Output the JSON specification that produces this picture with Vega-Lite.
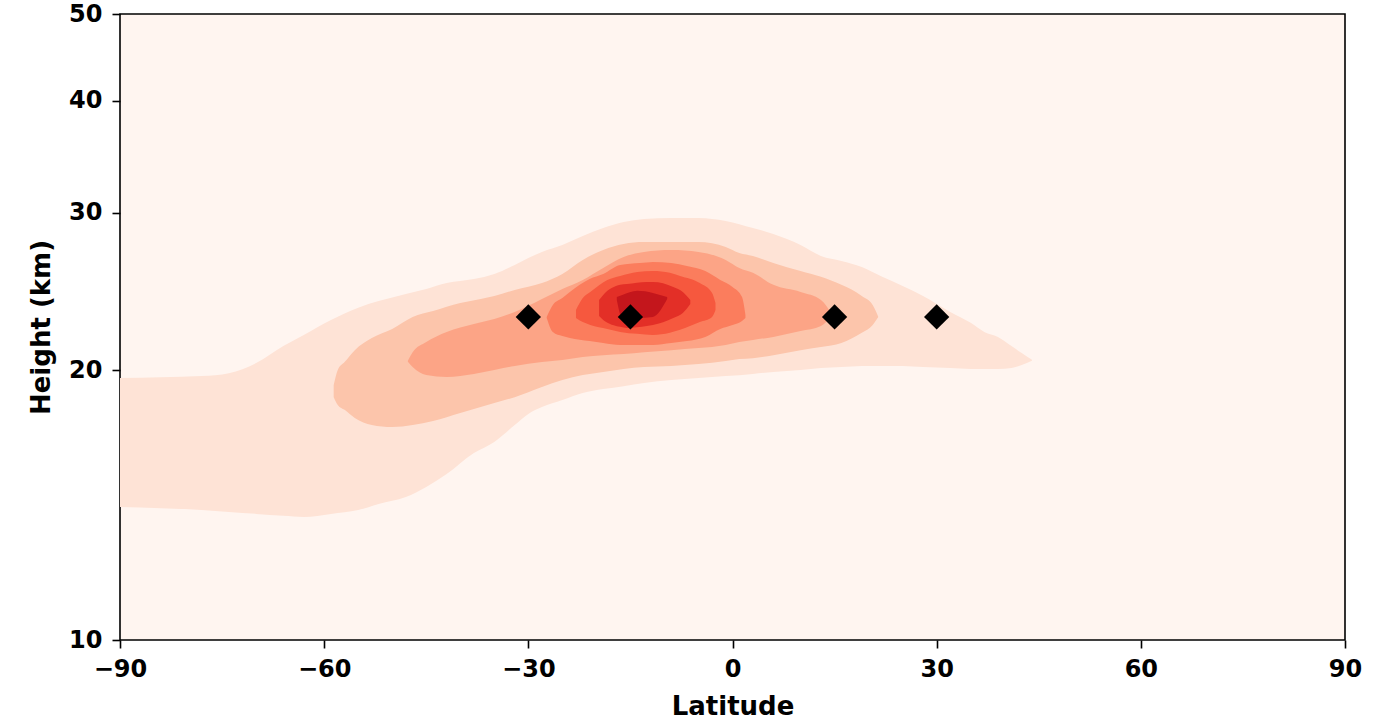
{
  "$schema": "https://vega.github.io/schema/vega-lite/v6.json",
  "autosize": {"type": "none"},
  "padding": {"left": 120, "top": 14, "right": 41, "bottom": 82},
  "width": 1225,
  "height": 626,
  "background": "white",
  "view": {"fill": "#fff5f0", "stroke": "#000000", "strokeWidth": 1.6},
  "config": {
    "font": "DejaVu Sans",
    "axis": {
      "labelFont": "DejaVu Sans", "labelFontWeight": "bold", "labelFontSize": 24, "labelColor": "#000",
      "titleFont": "DejaVu Sans", "titleFontWeight": "bold", "titleFontSize": 26, "titleColor": "#000",
      "tickColor": "#000", "tickWidth": 1.6, "tickSize": 8, "domain": false, "grid": false,
      "labelFlush": false, "labelOverlap": false
    }
  },
  "datasets": {
    "bands": [
      {"level": 1, "lat": -90, "lo": 14.08, "hi": 19.61},
      {"level": 1, "lat": -78, "lo": 13.97, "hi": 19.71},
      {"level": 1, "lat": -74, "lo": 13.90, "hi": 19.86},
      {"level": 1, "lat": -70, "lo": 13.83, "hi": 20.38},
      {"level": 1, "lat": -66, "lo": 13.76, "hi": 21.29},
      {"level": 1, "lat": -63, "lo": 13.72, "hi": 21.91},
      {"level": 1, "lat": -59, "lo": 13.83, "hi": 22.77},
      {"level": 1, "lat": -55, "lo": 13.97, "hi": 23.50},
      {"level": 1, "lat": -52, "lo": 14.19, "hi": 23.90},
      {"level": 1, "lat": -48, "lo": 14.44, "hi": 24.34},
      {"level": 1, "lat": -45, "lo": 14.82, "hi": 24.66},
      {"level": 1, "lat": -42, "lo": 15.32, "hi": 25.04},
      {"level": 1, "lat": -38, "lo": 16.17, "hi": 25.30},
      {"level": 1, "lat": -35, "lo": 16.64, "hi": 25.63},
      {"level": 1, "lat": -32, "lo": 17.38, "hi": 26.23},
      {"level": 1, "lat": -30, "lo": 17.88, "hi": 26.70},
      {"level": 1, "lat": -28, "lo": 18.20, "hi": 27.12},
      {"level": 1, "lat": -25, "lo": 18.53, "hi": 27.61},
      {"level": 1, "lat": -22, "lo": 18.87, "hi": 28.25},
      {"level": 1, "lat": -19, "lo": 19.06, "hi": 28.84},
      {"level": 1, "lat": -16, "lo": 19.20, "hi": 29.29},
      {"level": 1, "lat": -13, "lo": 19.36, "hi": 29.52},
      {"level": 1, "lat": -9, "lo": 19.51, "hi": 29.60},
      {"level": 1, "lat": -5, "lo": 19.61, "hi": 29.60},
      {"level": 1, "lat": -1, "lo": 19.71, "hi": 29.37},
      {"level": 1, "lat": 3, "lo": 19.82, "hi": 28.84},
      {"level": 1, "lat": 6, "lo": 19.92, "hi": 28.40},
      {"level": 1, "lat": 10, "lo": 20.02, "hi": 27.61},
      {"level": 1, "lat": 13, "lo": 20.12, "hi": 26.84},
      {"level": 1, "lat": 16, "lo": 20.17, "hi": 26.50},
      {"level": 1, "lat": 19, "lo": 20.23, "hi": 26.09},
      {"level": 1, "lat": 22, "lo": 20.23, "hi": 25.44},
      {"level": 1, "lat": 25, "lo": 20.23, "hi": 24.85},
      {"level": 1, "lat": 28, "lo": 20.17, "hi": 24.22},
      {"level": 1, "lat": 32, "lo": 20.12, "hi": 23.24},
      {"level": 1, "lat": 35, "lo": 20.07, "hi": 22.60},
      {"level": 1, "lat": 37, "lo": 20.07, "hi": 22.08},
      {"level": 1, "lat": 39, "lo": 20.07, "hi": 21.80},
      {"level": 1, "lat": 41, "lo": 20.12, "hi": 21.29},
      {"level": 1, "lat": 42.5, "lo": 20.28, "hi": 20.91},
      {"level": 1, "lat": 44, "lo": 20.5, "hi": 20.55},

      {"level": 2, "lat": -58.6, "lo": 18.67, "hi": 19.26},
      {"level": 2, "lat": -58.0, "lo": 18.30, "hi": 20.02},
      {"level": 2, "lat": -57.0, "lo": 18.07, "hi": 20.43},
      {"level": 2, "lat": -55.5, "lo": 17.70, "hi": 21.07},
      {"level": 2, "lat": -53, "lo": 17.38, "hi": 21.74},
      {"level": 2, "lat": -50, "lo": 17.29, "hi": 22.25},
      {"level": 2, "lat": -47, "lo": 17.38, "hi": 22.95},
      {"level": 2, "lat": -44, "lo": 17.56, "hi": 23.30},
      {"level": 2, "lat": -40, "lo": 17.93, "hi": 23.78},
      {"level": 2, "lat": -37, "lo": 18.20, "hi": 24.03},
      {"level": 2, "lat": -35, "lo": 18.39, "hi": 24.22},
      {"level": 2, "lat": -32, "lo": 18.67, "hi": 24.60},
      {"level": 2, "lat": -28, "lo": 19.16, "hi": 25.04},
      {"level": 2, "lat": -25, "lo": 19.51, "hi": 25.63},
      {"level": 2, "lat": -22, "lo": 19.76, "hi": 26.57},
      {"level": 2, "lat": -19, "lo": 19.92, "hi": 27.26},
      {"level": 2, "lat": -16, "lo": 20.07, "hi": 27.68},
      {"level": 2, "lat": -13, "lo": 20.17, "hi": 27.82},
      {"level": 2, "lat": -9, "lo": 20.23, "hi": 27.82},
      {"level": 2, "lat": -5, "lo": 20.33, "hi": 27.82},
      {"level": 2, "lat": -1, "lo": 20.49, "hi": 27.47},
      {"level": 2, "lat": 1, "lo": 20.59, "hi": 27.05},
      {"level": 2, "lat": 3, "lo": 20.64, "hi": 26.84},
      {"level": 2, "lat": 6, "lo": 20.80, "hi": 26.36},
      {"level": 2, "lat": 10, "lo": 21.07, "hi": 25.82},
      {"level": 2, "lat": 13, "lo": 21.24, "hi": 25.44},
      {"level": 2, "lat": 16, "lo": 21.46, "hi": 24.92},
      {"level": 2, "lat": 19, "lo": 22.03, "hi": 24.22},
      {"level": 2, "lat": 20.6, "lo": 22.48, "hi": 23.66},
      {"level": 2, "lat": 21.4, "lo": 22.93, "hi": 22.97},

      {"level": 3, "lat": -47.7, "lo": 20.45, "hi": 20.5},
      {"level": 3, "lat": -47, "lo": 20.17, "hi": 20.96},
      {"level": 3, "lat": -45, "lo": 19.76, "hi": 21.52},
      {"level": 3, "lat": -42, "lo": 19.66, "hi": 22.08},
      {"level": 3, "lat": -38, "lo": 19.82, "hi": 22.54},
      {"level": 3, "lat": -35, "lo": 20.02, "hi": 22.83},
      {"level": 3, "lat": -32, "lo": 20.23, "hi": 23.24},
      {"level": 3, "lat": -28, "lo": 20.43, "hi": 24.03},
      {"level": 3, "lat": -25, "lo": 20.54, "hi": 24.66},
      {"level": 3, "lat": -22, "lo": 20.70, "hi": 25.24},
      {"level": 3, "lat": -19, "lo": 20.80, "hi": 26.03},
      {"level": 3, "lat": -16, "lo": 20.86, "hi": 26.77},
      {"level": 3, "lat": -13, "lo": 20.96, "hi": 27.12},
      {"level": 3, "lat": -9, "lo": 21.07, "hi": 27.26},
      {"level": 3, "lat": -5, "lo": 21.18, "hi": 27.12},
      {"level": 3, "lat": -1, "lo": 21.35, "hi": 26.57},
      {"level": 3, "lat": 1, "lo": 21.52, "hi": 26.03},
      {"level": 3, "lat": 3, "lo": 21.63, "hi": 25.70},
      {"level": 3, "lat": 6, "lo": 21.80, "hi": 24.92},
      {"level": 3, "lat": 10, "lo": 22.13, "hi": 24.47},
      {"level": 3, "lat": 13, "lo": 22.42, "hi": 23.97},
      {"level": 3, "lat": 14.6, "lo": 23.00, "hi": 23.12},

      {"level": 4, "lat": -27.3, "lo": 22.89, "hi": 22.95},
      {"level": 4, "lat": -26.4, "lo": 22.08, "hi": 23.66},
      {"level": 4, "lat": -25, "lo": 21.85, "hi": 24.09},
      {"level": 4, "lat": -23.9, "lo": 21.74, "hi": 24.47},
      {"level": 4, "lat": -21, "lo": 21.57, "hi": 25.30},
      {"level": 4, "lat": -19, "lo": 21.46, "hi": 25.63},
      {"level": 4, "lat": -16.5, "lo": 21.35, "hi": 26.23},
      {"level": 4, "lat": -13.6, "lo": 21.35, "hi": 26.36},
      {"level": 4, "lat": -11.7, "lo": 21.35, "hi": 26.43},
      {"level": 4, "lat": -9, "lo": 21.46, "hi": 26.36},
      {"level": 4, "lat": -6.7, "lo": 21.57, "hi": 26.16},
      {"level": 4, "lat": -4, "lo": 21.80, "hi": 25.82},
      {"level": 4, "lat": -1.8, "lo": 22.25, "hi": 25.24},
      {"level": 4, "lat": 0, "lo": 22.48, "hi": 24.79},
      {"level": 4, "lat": 1.4, "lo": 22.71, "hi": 24.15},
      {"level": 4, "lat": 1.9, "lo": 22.89, "hi": 23.06},

      {"level": 5, "lat": -23, "lo": 22.89, "hi": 23.36},
      {"level": 5, "lat": -22, "lo": 22.65, "hi": 24.09},
      {"level": 5, "lat": -20.9, "lo": 22.48, "hi": 24.47},
      {"level": 5, "lat": -18.4, "lo": 22.25, "hi": 25.24},
      {"level": 5, "lat": -16.5, "lo": 22.08, "hi": 25.50},
      {"level": 5, "lat": -14, "lo": 21.97, "hi": 25.76},
      {"level": 5, "lat": -11.7, "lo": 21.91, "hi": 25.82},
      {"level": 5, "lat": -9.2, "lo": 22.03, "hi": 25.70},
      {"level": 5, "lat": -7.7, "lo": 22.20, "hi": 25.50},
      {"level": 5, "lat": -4.8, "lo": 22.65, "hi": 25.04},
      {"level": 5, "lat": -3, "lo": 22.95, "hi": 24.41},
      {"level": 5, "lat": -2.5, "lo": 23.36, "hi": 23.78},

      {"level": 6, "lat": -19.6, "lo": 23.00, "hi": 23.97},
      {"level": 6, "lat": -19, "lo": 22.77, "hi": 24.28},
      {"level": 6, "lat": -16.5, "lo": 22.37, "hi": 24.92},
      {"level": 6, "lat": -15.5, "lo": 22.31, "hi": 24.97},
      {"level": 6, "lat": -12.6, "lo": 22.42, "hi": 25.11},
      {"level": 6, "lat": -11.7, "lo": 22.48, "hi": 25.11},
      {"level": 6, "lat": -8.7, "lo": 22.89, "hi": 24.79},
      {"level": 6, "lat": -7.3, "lo": 23.18, "hi": 24.47},
      {"level": 6, "lat": -6.2, "lo": 23.72, "hi": 23.97},

      {"level": 7, "lat": -17, "lo": 23.97, "hi": 24.15},
      {"level": 7, "lat": -16.2, "lo": 22.89, "hi": 24.28},
      {"level": 7, "lat": -14, "lo": 22.89, "hi": 24.54},
      {"level": 7, "lat": -11.7, "lo": 22.95, "hi": 24.41},
      {"level": 7, "lat": -9.6, "lo": 24.03, "hi": 24.15}
    ],
    "points": [
      {"lat": -30, "height": 22.95},
      {"lat": -15, "height": 22.95},
      {"lat": 15, "height": 22.95},
      {"lat": 30, "height": 22.95}
    ]
  },
  "layer": [
    {
      "data": {"name": "bands"},
      "mark": {"type": "area", "interpolate": "monotone", "clip": true},
      "encoding": {
        "x": {
          "field": "lat", "type": "quantitative",
          "scale": {"domain": [-90, 90], "nice": false, "zero": false},
          "axis": {"values": [-90, -60, -30, 0, 30, 60, 90], "format": "d", "title": "Latitude", "labelPadding": 9, "titlePadding": 12}
        },
        "y": {
          "field": "lo", "type": "quantitative",
          "scale": {"type": "log", "domain": [10, 50], "nice": false},
          "axis": {"values": [10, 20, 30, 40, 50], "format": "d", "title": "Height (km)", "labelPadding": 10, "titlePadding": 14}
        },
        "y2": {"field": "hi"},
        "color": {
          "field": "level", "type": "ordinal",
          "scale": {"domain": [1, 2, 3, 4, 5, 6, 7], "range": ["#fee3d6", "#fcc5ab", "#fca486", "#fb7d5d", "#f6583e", "#e32f27", "#c4161c"]},
          "legend": null
        }
      }
    },
    {
      "data": {"name": "points"},
      "mark": {"type": "point", "shape": "diamond", "filled": true, "color": "#000000", "size": 640, "opacity": 1},
      "encoding": {
        "x": {"field": "lat", "type": "quantitative"},
        "y": {"field": "height", "type": "quantitative"}
      }
    }
  ]
}
